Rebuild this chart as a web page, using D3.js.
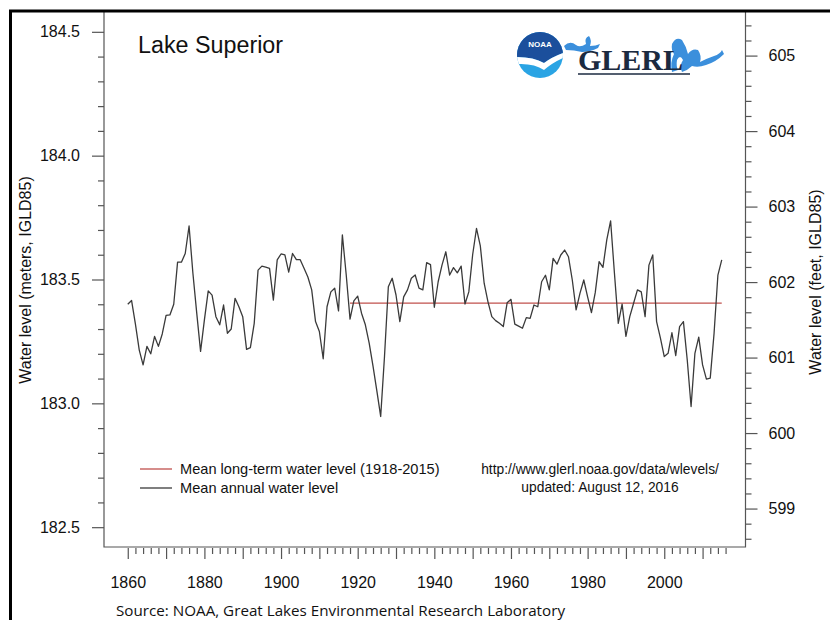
<!DOCTYPE html>
<html><head><meta charset="utf-8">
<script src="https://cdn.jsdelivr.net/npm/d3@7"></script>
<style>
html,body{margin:0;padding:0;background:#fff;}
svg{display:block;}
text{font-family:"Liberation Sans",Arial,sans-serif;fill:#111;}
</style></head>
<body>
<svg id="chart" width="830" height="620"></svg>
<script>
// ---------- data ----------
const firstYear = 1860;
const lastYear = 2015;
const annualLevel = [
  // 1860s
  183.40, 183.415, 183.32, 183.215, 183.155, 183.23, 183.20, 183.27, 183.23, 183.28,
  // 1870s
  183.355, 183.357, 183.40, 183.57, 183.57, 183.605, 183.716, 183.525, 183.364, 183.21,
  // 1880s
  183.337, 183.454, 183.437, 183.35, 183.317, 183.397, 183.283, 183.30, 183.424, 183.39,
  // 1890s
  183.35, 183.218, 183.225, 183.323, 183.538, 183.554, 183.55, 183.545, 183.417, 183.579,
  // 1900s
  183.603, 183.599, 183.53, 183.605, 183.58, 183.58, 183.545, 183.51, 183.458, 183.33,
  // 1910s
  183.29, 183.18, 183.39, 183.45, 183.465, 183.373, 183.68, 183.52, 183.34, 183.414,
  // 1920s
  183.433, 183.364, 183.317, 183.243, 183.15, 183.05, 182.947, 183.19, 183.471, 183.505,
  // 1930s
  183.4375, 183.33, 183.43, 183.458, 183.505, 183.518, 183.465, 183.458, 183.568, 183.56,
  // 1940s
  183.388, 183.491, 183.558, 183.612, 183.518, 183.548, 183.527, 183.554, 183.401, 183.45,
  // 1950s
  183.60, 183.706, 183.636, 183.485, 183.41, 183.35, 183.334, 183.323, 183.31, 183.406,
  // 1960s
  183.42, 183.32, 183.312, 183.303, 183.346, 183.343, 183.397, 183.39, 183.491, 183.517,
  // 1970s
  183.458, 183.585, 183.562, 183.599, 183.619, 183.592, 183.498, 183.377, 183.444, 183.498,
  // 1980s
  183.43, 183.366, 183.448, 183.572, 183.549, 183.66, 183.737, 183.525, 183.323, 183.401,
  // 1990s
  183.27, 183.35, 183.404, 183.458, 183.45, 183.35, 183.558, 183.599, 183.33, 183.263,
  // 2000s
  183.189, 183.202, 183.285, 183.193, 183.31, 183.33, 183.175, 182.987, 183.202, 183.267,
  // 2010s
  183.155, 183.098, 183.102, 183.283, 183.518, 183.579
];
const years = d3.range(firstYear, lastYear + 1);
const meanPeriod = [1918, 2015];
const meanLevel = 183.405;

const xLabelYears = [1860, 1880, 1900, 1920, 1940, 1960, 1980, 2000];
const meterMajorTicks = [182.5, 183.0, 183.5, 184.0, 184.5];
const feetMajorTicks = [599, 600, 601, 602, 603, 604, 605];
const legendLabels = ["Mean long-term water level (1918-2015)", "Mean annual water level"];
const sourceNote = ["http://www.glerl.noaa.gov/data/wlevels/", "updated: August 12, 2016"];
const FT = 0.3048;

// ---------- layout ----------
const svg = d3.select("#chart");
const L = 104, R = 745.5, T = 12, B = 547;
const xPad = (lastYear - firstYear) * 0.04;
const x = d3.scaleLinear().domain([firstYear - xPad, lastYear + xPad]).range([L, R]);
const yLo = 182.5, yHi = 184.5, yPad = (yHi - yLo) * 0.04;
const y = d3.scaleLinear().domain([yLo - yPad, yHi + yPad]).range([B, T]);
const yFt = d3.scaleLinear().domain([(yLo - yPad) / FT, (yHi + yPad) / FT]).range([B, T]);

const tickColor = "#555";

// plot box (left, bottom, right)
svg.append("path")
  .attr("d", `M${L},${T}V${B}H${R}V${T}`)
  .attr("fill", "none").attr("stroke", tickColor).attr("stroke-width", 1.2);

// left axis
const meterAll = d3.range(Math.round(yLo * 10), Math.round(yHi * 10) + 1).map(v => v / 10);
const meterMinor = meterAll.filter(v => !meterMajorTicks.some(m => Math.abs(m - v) < 1e-6));
function styleAxis(g) {
  g.select(".domain").remove();
  g.selectAll("line").attr("stroke", tickColor).attr("stroke-width", 1.2);
  g.selectAll("text").attr("font-family", '"Liberation Sans",Arial,sans-serif').attr("font-size", 16).attr("fill", "#111");
}
svg.append("g").attr("transform", `translate(${L},0)`)
  .call(d3.axisLeft(y).tickValues(meterMajorTicks).tickSize(12).tickPadding(12).tickFormat(d3.format(".1f")))
  .call(styleAxis);
svg.append("g").attr("transform", `translate(${L},0)`)
  .call(d3.axisLeft(y).tickValues(meterMinor).tickSize(6).tickFormat(""))
  .call(styleAxis);

// right axis (feet)
const ftLo = Math.ceil((yLo - yPad) / FT * 5) / 5, ftHi = Math.floor((yHi + yPad) / FT * 5) / 5;
const feetAll = d3.range(Math.round(ftLo * 5), Math.round(ftHi * 5) + 1).map(v => v / 5);
const feetMinor = feetAll.filter(v => !feetMajorTicks.some(m => Math.abs(m - v) < 1e-6));
svg.append("g").attr("transform", `translate(${R},0)`)
  .call(d3.axisRight(yFt).tickValues(feetMajorTicks).tickSize(12).tickPadding(11).tickFormat(d3.format("d")))
  .call(styleAxis);
svg.append("g").attr("transform", `translate(${R},0)`)
  .call(d3.axisRight(yFt).tickValues(feetMinor).tickSize(6).tickFormat(""))
  .call(styleAxis);

// bottom axis
const xAll = d3.range(1860, 2017, 2);
const xMajor = xAll.filter(v => v % 10 === 0);
const xMinor = xAll.filter(v => v % 10 !== 0);
svg.append("g").attr("transform", `translate(0,${B + 1})`)
  .call(d3.axisBottom(x).tickValues(xMajor).tickSize(11).tickPadding(18)
    .tickFormat(d => xLabelYears.includes(d) ? String(d) : ""))
  .call(styleAxis);
svg.append("g").attr("transform", `translate(0,${B + 1})`)
  .call(d3.axisBottom(x).tickValues(xMinor).tickSize(6).tickFormat(""))
  .call(styleAxis);

// mean line
svg.append("line")
  .attr("x1", x(meanPeriod[0])).attr("x2", x(meanPeriod[1]))
  .attr("y1", y(meanLevel)).attr("y2", y(meanLevel))
  .attr("stroke", "#c0504d").attr("stroke-width", 1.3);

// annual line
const line = d3.line().x((d, i) => x(years[i])).y(d => y(d));
svg.append("path").datum(annualLevel)
  .attr("d", line).attr("fill", "none")
  .attr("stroke", "#3a3a3a").attr("stroke-width", 1.3).attr("stroke-linejoin", "round");

// outer frame
svg.append("rect").attr("x", 10.5).attr("y", 11).attr("width", 900).attr("height", 700)
  .attr("fill", "none").attr("stroke", "#000").attr("stroke-width", 3);

// title
svg.append("text").attr("x", 138).attr("y", 53).attr("font-size", 23.3).text("Lake Superior");

// axis titles
svg.append("text").attr("transform", "translate(31,280) rotate(-90)")
  .attr("text-anchor", "middle").attr("font-size", 16).text("Water level (meters, IGLD85)");
svg.append("text").attr("transform", "translate(821,282) rotate(-90)")
  .attr("text-anchor", "middle").attr("font-size", 16).text("Water level (feet, IGLD85)");

// legend
const legColors = ["#c0504d", "#3a3a3a"];
legendLabels.forEach((lab, i) => {
  const ly = 469 + i * 19;
  svg.append("line").attr("x1", 140).attr("x2", 172).attr("y1", ly).attr("y2", ly)
    .attr("stroke", legColors[i]).attr("stroke-width", 1.3);
  svg.append("text").attr("x", 180).attr("y", ly + 5).attr("font-size", 14.6).text(lab);
});

// source note
sourceNote.forEach((s, i) => {
  svg.append("text").attr("x", 600).attr("y", 474 + i * 18).attr("text-anchor", "middle")
    .attr("font-size", 13.8).text(s);
});

// footer
svg.append("text").attr("x", 116).attr("y", 616)
  .attr("font-size", 15)
  .attr("textLength", 449).attr("lengthAdjust", "spacingAndGlyphs")
  .style("font-family", '"Open Sans","Noto Sans",sans-serif')
  .text("Source: NOAA, Great Lakes Environmental Research Laboratory");

// logo
const logo = svg.append("g");
const cx = 540, cy = 55, r = 23;
logo.append("clipPath").attr("id", "noaaClip").append("circle").attr("cx", cx).attr("cy", cy).attr("r", r);
const lg = logo.append("g").attr("clip-path", "url(#noaaClip)");
lg.append("rect").attr("x", cx - r).attr("y", cy - r).attr("width", 2 * r).attr("height", 2 * r).attr("fill", "#2aa4e4");
lg.append("path").attr("d", `M${cx - r},${cy - r}H${cx + r}V${cy - 2}Q${cx + 12},${cy + 2} ${cx + 4},${cy + 8}Q${cx - 6},${cy + 2} ${cx - r},${cy + 2}Z`).attr("fill", "#1b4f9c");
lg.append("path").attr("d", `M${cx - r},${cy + 2}Q${cx - 6},${cy + 2} ${cx + 4},${cy + 8}Q${cx + 12},${cy + 2} ${cx + r},${cy - 2}L${cx + r},${cy + 3}Q${cx + 12},${cy + 8} ${cx + 4},${cy + 15}Q${cx - 6},${cy + 8} ${cx - r},${cy + 9}Z`).attr("fill", "#fff");
logo.append("text").attr("x", cx).attr("y", cy - 8).attr("text-anchor", "middle")
  .attr("font-size", 8).attr("font-weight", "bold").style("fill", "#fff").text("NOAA");
// lakes shapes
logo.append("path").attr("d", "M564,46 Q570,40 576,45 Q580,48 586,44 Q584,38 589,36 Q592,40 590,46 Q596,46 600,44 L598,48 Q590,52 582,52 Q574,50 566,50 Z").attr("fill", "#3b8fdc");
logo.append("path").attr("d", "M672,44 Q676,36 682,40 Q686,46 688,54 Q692,48 698,50 Q702,56 700,62 Q708,58 714,56 Q720,54 722,50 L724,54 Q716,62 706,65 Q698,68 692,66 Q688,70 682,72 Q679,66 683,60 Q680,54 677,60 Q676,66 678,70 L672,72 Q670,62 674,54 Q671,50 672,44 Z").attr("fill", "#3b8fdc");
logo.append("text").attr("x", 578).attr("y", 70)
  .style("font-family", '"Liberation Serif","DejaVu Serif",serif')
  .attr("font-size", 30).attr("font-weight", "bold").style("fill", "#1b2a40").text("GLERL");
logo.append("line").attr("x1", 578).attr("x2", 690).attr("y1", 74).attr("y2", 74).attr("stroke", "#1b2a40").attr("stroke-width", 1.5);
</script>
</body></html>
